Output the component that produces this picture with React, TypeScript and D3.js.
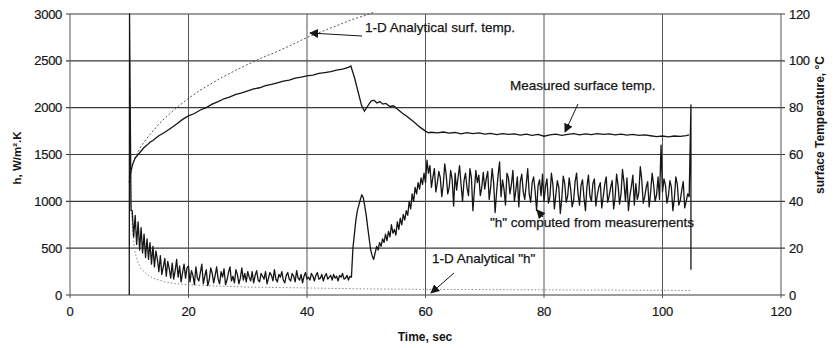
import React from "react";
import * as d3 from "d3";

// ---- data ----
const xTicks = [0, 20, 40, 60, 80, 100, 120];
const hTicks = [0, 500, 1000, 1500, 2000, 2500, 3000];
const tTicks = [0, 20, 40, 60, 80, 100, 120];

// 1-D analytical surface temperature (t, °C)
const anaTempT = [10, 10.5, 11, 12, 13, 14, 15, 16, 18, 20, 22, 25, 28, 30, 33, 35, 38, 40, 43, 45, 48, 50, 51.5];
const anaTempV = [50, 55, 59, 63.5, 67, 70, 73, 75.5, 80, 84, 87.5, 92, 96, 98.5, 102, 104, 107.5, 110, 113, 115, 118, 119.5, 121];

// measured surface temperature (t, °C)
const measT = [10, 10.3, 10.6, 11, 11.5, 12, 12.5, 13, 13.5, 14, 14.5, 15, 16, 17, 18, 19, 20, 21, 22, 23, 24, 25, 26, 27, 28, 29, 30, 31, 32, 33, 34, 35, 36, 37, 38, 39, 40, 41, 42, 43, 44, 45, 46, 47, 47.4, 48, 48.6, 49.2, 49.7, 50.2, 50.8, 51.3, 51.8, 52.3, 52.8, 53.3, 54, 54.6, 55.2, 56, 57, 58, 59, 60, 60.5, 61, 62, 63, 64, 65, 66, 67, 68, 69, 70, 71, 72, 73, 74, 75, 76, 77, 78, 79, 80, 81, 82, 83, 84, 85, 86, 87, 88, 89, 90, 91, 92, 93, 94, 95, 96, 97, 98, 99, 100, 101, 102, 103, 104, 104.5];
const measV = [48, 53, 56, 58.5, 60, 61.5, 63, 64, 65.2, 66, 67, 68, 69.5, 71.2, 73, 75, 76.5, 77.5, 79, 80, 81.5, 82.6, 83.8, 84.6, 85.7, 86.3, 87.2, 88, 88.5, 89.4, 89.9, 90.6, 91.3, 91.8, 92.6, 93, 93.6, 93.9, 94.6, 95, 95.4, 96, 96.5, 97.2, 97.8, 93, 87, 81, 78.5, 80.5, 82.8, 83.2, 82, 82.6, 81.5, 81.8, 80.5, 80.8, 79.5, 77.8, 76, 74, 71.8, 70, 69.3, 69.5, 69.2, 69.6, 69.1, 69.4, 68.8, 69.3, 68.9, 69.2, 68.7, 69.0, 68.5, 68.9, 68.6, 68.8, 68.3, 68.7, 68.2, 68.6, 67.8, 68.4, 68.7, 68.2, 68.6, 68.9, 68.4, 68.8, 68.5, 68.9, 68.6, 68.8, 68.4, 68.7, 68.3, 68.6, 68.2, 68.4, 68.0, 67.6, 67.9, 67.5, 67.9, 67.7, 68.1, 68.4];

// 1-D analytical h (t, W/m²K)
const anaHT = [10.1, 10.3, 10.6, 11, 11.5, 12, 13, 14, 16, 18, 20, 25, 30, 40, 50, 60, 80, 100, 105];
const anaHV = [1550, 1000, 650, 450, 340, 280, 220, 180, 140, 120, 110, 95, 85, 75, 65, 60, 55, 50, 48];

// measured h: start spike then samples every 0.25 s from 10.5 s
const hSpikeT = [10, 10.05, 10.3];
const hSpikeV = [0, 3000, 900];
const hStart = 10.5;
const hStep = 0.25;
const hVals = [
  // 10.5 - 14
  900, 620, 850, 540, 780, 480, 720, 450, 650, 400, 600, 380, 560, 330, 520,
  // 14.25 - 20
  300, 470, 380, 250, 420, 220, 300, 390, 200, 360, 280, 180, 340, 170, 260, 380, 190, 310, 140, 240, 330, 180, 290, 310,
  // 20.25 - 30
  140, 260, 210, 110, 300, 180, 150, 240, 330, 120, 200, 270, 100, 160, 290, 230, 130, 210, 300, 170, 120, 250, 190, 280, 110, 160, 240, 300, 150, 200, 130, 270, 220, 120, 180, 290, 160, 230, 140, 250,
  // 30.25 - 40
  190, 150, 250, 130, 210, 260, 160, 140, 230, 200, 170, 250, 120, 180, 240, 210, 150, 270, 170, 140, 220, 190, 250, 160, 130, 210, 240, 170, 150, 230, 200, 140, 260, 180, 160, 220, 130, 200, 240, 170,
  // 40.25 - 47.5
  190, 160, 230, 200, 150, 210, 240, 170, 180, 220, 150, 200, 230, 170, 190, 210, 160, 220, 180, 200, 150, 210, 190, 230, 170, 180, 210, 160, 200, 190,
  // 47.75 - 60
  500, 650, 800, 900, 960, 1020, 1070, 1040, 950, 850, 720, 600, 480, 420, 380, 450, 520, 480, 560, 520, 600, 560, 650, 580, 680, 620, 750, 660, 700, 640, 780, 700, 820, 750, 860, 800, 900, 850, 1000, 920, 1080, 1000, 1150, 1080, 1200, 1130, 1250, 1180, 1300, 1200,
  // 60.25 - 70
  1440, 1300, 1380, 1150, 1260, 1350, 1100, 1200, 1320, 1250, 1050, 1180, 1400, 1280, 1080, 1150, 1330, 1230, 950, 1300, 1120, 1260, 1380, 1180, 1000, 1220, 1300, 1150, 1060, 1350, 1250, 900, 1120, 1330, 1200, 1280, 1060, 1150, 1310, 1130,
  // 70.25 - 80
  1240, 1320, 1020, 1150, 1350, 1200, 880, 1100, 1280, 1420, 1050, 1230, 1130, 960, 1300, 1250, 1080, 1180, 1330, 1000, 1120, 1260, 940, 1210, 1290, 1100, 1020, 1180, 1350, 1080, 990, 1200, 1260, 1110, 900, 1170, 1230, 1060, 1290, 1000,
  // 80.25 - 90
  1160, 1240, 980, 1050, 1300, 1180, 920, 1070, 1220, 1150, 870, 1030, 1270, 1190, 990, 1060, 1250, 1130, 940, 1010, 1210, 1300, 1080, 960, 1170, 1230, 1040, 900, 1160, 1280, 1060, 1000, 1190, 1240, 950, 1070, 1150, 1200, 930, 1050,
  // 90.25 - 100
  1180, 1260, 990, 1060, 1150, 1220, 920, 1040, 1290, 1170, 970, 1080, 1340, 1200, 1000, 1250, 900, 1060, 1160, 1280, 960, 1190, 1020, 1090, 1370, 1230, 980, 1050, 1150, 1210, 940, 1100, 1300, 1180, 1000, 1070, 1260, 1020, 1600, 1100,
  // 100.25 - 104.5
  1240, 1170, 980, 1060, 1220, 1150, 900, 1030, 1260, 1180, 960, 1010, 1120, 1210, 930, 1000, 1080, 1050,
];
const hEndT = [104.8, 104.8];
const hEndV = [2030, 270];

// ---- layout ----
const W = 834;
const H = 348;
const x0 = 70;
const x1 = 781;
const yTop = 14;
const yBot = 295;
const FONT = "'Liberation Sans', Arial, sans-serif";

export default function App() {
  const x = d3.scaleLinear().domain([0, 120]).range([x0, x1]);
  const yh = d3.scaleLinear().domain([0, 3000]).range([yBot, yTop]);
  const yt = d3.scaleLinear().domain([0, 120]).range([yBot, yTop]);

  const hPts: [number, number][] = [];
  hSpikeT.forEach((t, i) => hPts.push([t, hSpikeV[i]]));
  hVals.forEach((v, i) => hPts.push([hStart + i * hStep, v]));
  hEndT.forEach((t, i) => hPts.push([t, hEndV[i]]));

  const lineH = d3.line<[number, number]>().x((d) => x(d[0])).y((d) => yh(d[1]));
  const lineT = d3.line<[number, number]>().x((d) => x(d[0])).y((d) => yt(d[1]));

  const anaTemp = anaTempT.map((t, i) => [t, anaTempV[i]] as [number, number]);
  const meas = measT.map((t, i) => [t, measV[i]] as [number, number]);
  const anaH = anaHT.map((t, i) => [t, anaHV[i]] as [number, number]);

  const ink = "#161616";
  const annStyle = { fontSize: 13.5, fill: ink, stroke: ink, strokeWidth: 0.25 } as const;

  return (
    <svg width={W} height={H} style={{ position: "absolute", left: 0, top: 0, background: "#fff" }} fontFamily={FONT}>
      <defs>
        <marker id="ah" viewBox="0 0 10 10" refX="9" refY="5" markerWidth="9" markerHeight="9" orient="auto" markerUnits="userSpaceOnUse">
          <path d="M0,0 L10,5 L0,10 z" fill={ink} />
        </marker>
      </defs>
      {/* horizontal gridlines */}
      {hTicks.map((v) => (
        <line key={"hg" + v} x1={x0 - 4} x2={x1 + 4} y1={yh(v)} y2={yh(v)} stroke="#3a3a3a" strokeWidth={1.1} />
      ))}
      {/* vertical gridlines */}
      {xTicks.map((v) => (
        <line key={"vg" + v} x1={x(v)} x2={x(v)} y1={yTop} y2={yBot + 3} stroke="#555" strokeWidth={1} />
      ))}
      {/* left tick labels */}
      {hTicks.map((v) => (
        <text key={"hl" + v} x={x0 - 8} y={yh(v)} dy="0.35em" textAnchor="end" fontSize={13} fill={ink} stroke={ink} strokeWidth={0.2} letterSpacing={-0.3}>
          {v}
        </text>
      ))}
      {/* right tick labels */}
      {tTicks.map((v) => (
        <text key={"tl" + v} x={x1 + 8} y={yt(v)} dy="0.35em" textAnchor="start" fontSize={13} fill={ink} stroke={ink} strokeWidth={0.2} letterSpacing={-0.3}>
          {v}
        </text>
      ))}
      {/* x tick labels */}
      {xTicks.map((v) => (
        <text key={"xl" + v} x={x(v)} y={316} textAnchor="middle" fontSize={13} fill={ink} stroke={ink} strokeWidth={0.2} letterSpacing={-0.3}>
          {v}
        </text>
      ))}
      {/* axis titles */}
      <text x={425} y={341} textAnchor="middle" fontSize={12} fontWeight="bold" fill={ink}>
        Time, sec
      </text>
      <text transform={`translate(21,158) rotate(-90)`} textAnchor="middle" fontSize={11.5} fontWeight="bold" fill={ink}>
        h, W/m².K
      </text>
      <text transform={`translate(824,125) rotate(-90)`} textAnchor="middle" fontSize={12} fontWeight="bold" fill={ink}>
        surface Temperature, °C
      </text>

      {/* series */}
      <path d={lineH(anaH) || ""} fill="none" stroke="#8a8a8a" strokeWidth={1} strokeDasharray="1.5,2" />
      <path d={lineT(anaTemp) || ""} fill="none" stroke="#555" strokeWidth={1} strokeDasharray="2,2" />
      <path d={lineT(meas) || ""} fill="none" stroke={ink} strokeWidth={1.3} />
      <path d={lineH(hPts) || ""} fill="none" stroke={ink} strokeWidth={1.3} strokeLinejoin="round" />

      {/* annotations */}
      <line x1={362} y1={36} x2={310} y2={33} stroke={ink} strokeWidth={1} markerEnd="url(#ah)" />
      <text x={365} y={32} {...annStyle}>
        1-D Analytical surf. temp.
      </text>
      <text x={510} y={90} {...annStyle}>
        Measured surface temp.
      </text>
      <line x1={578} y1={104} x2={565} y2={132} stroke={ink} strokeWidth={1} markerEnd="url(#ah)" />
      <text x={490} y={227} {...annStyle}>
        "h" computed from measurements
      </text>
      <line x1={543} y1={217} x2={537} y2={210} stroke={ink} strokeWidth={1} markerEnd="url(#ah)" />
      <text x={432} y={263} {...annStyle}>
        1-D Analytical "h"
      </text>
      <line x1={454} y1={273} x2={431} y2={293} stroke={ink} strokeWidth={1} markerEnd="url(#ah)" />
    </svg>
  );
}
